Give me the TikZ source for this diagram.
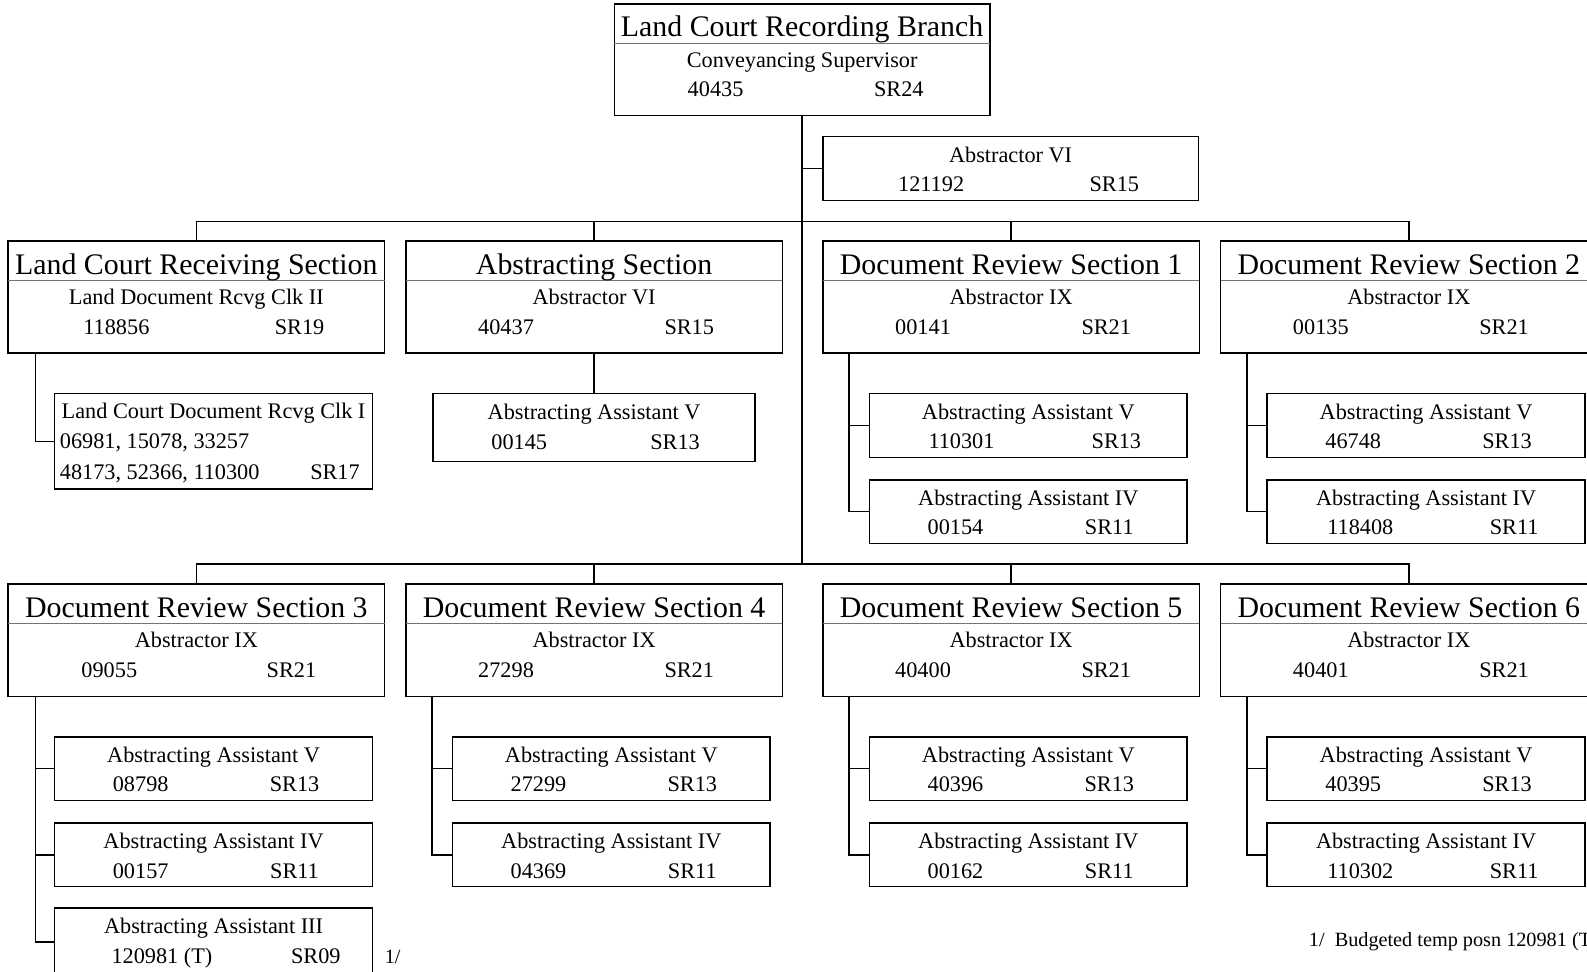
\documentclass[tikz,border=0pt]{standalone}
\usepackage{fontspec}
\setmainfont{Liberation Serif}
\tikzset{
  box/.style={draw=black, line width=1.5pt, fill=white, anchor=north west, inner sep=0pt, outer sep=0pt},
  sepline/.style={draw=black!55, line width=1pt},
  conn/.style={draw=black, line width=1.5pt},
  ttl/.style={font=\fontsize{29.5}{31}\selectfont, anchor=base, inner sep=0pt},
  txt/.style={font=\fontsize{22}{24}\selectfont, anchor=base, inner sep=0pt},
  txtw/.style={font=\fontsize{22}{24}\selectfont, anchor=base west, inner sep=0pt},
  note/.style={font=\fontsize{20}{22}\selectfont, anchor=base west, inner sep=0pt},
}
% #1 name, #2 x, #3 y, #4 title, #5 role, #6 num x, #7 num, #8 sr x, #9 sr
\newcommand\SecBox[9]{%
  \node[box, minimum width=372pt, minimum height=111pt] (#1) at (#2,#3) {};
  \draw[sepline] (#2,#3+39) -- (#2+372,#3+39);
  \node[ttl] (#1-t) at (#2+186,#3+33) {#4};
  \node[txt] (#1-r) at (#2+186,#3+62.5) {#5};
  \node[txt] (#1-n) at (#6,#3+92) {#7};
  \node[txt] (#1-s) at (#8,#3+92) {#9};
}
% #1 name, #2 x, #3 y, #4 role, #5 num x, #6 num, #7 sr x, #8 sr, #9 height
\newcommand\SubBox[9]{%
  \node[box, minimum width=314pt, minimum height=#9pt] (#1) at (#2,#3) {};
  \node[txt] (#1-r) at (#2+157,#3+25) {#4};
  \node[txt] (#1-n) at (#5,#3+54.5) {#6};
  \node[txt] (#1-s) at (#7,#3+54.5) {#8};
}
\begin{document}
\begin{tikzpicture}[x=1pt,y=-1pt]
\useasboundingbox (0,0) rectangle (1568,959.4);

% top box
\node[box, minimum width=371pt, minimum height=110pt] (top) at (607,4) {};
\draw[sepline] (607,43) -- (978,43);
\node[ttl] (top-t) at (792.5,36.5) {Land Court Recording Branch};
\node[txt] (top-r) at (792.5,66.5) {Conveyancing Supervisor};
\node[txt] (top-n) at (707,95.5) {40435};
\node[txt] (top-s) at (888,95.5) {SR24};

% Abstractor VI staff box
\node[box, minimum width=371pt, minimum height=63pt] (absvi) at (813,135) {};
\node[txt] (absvi-r) at (998.5,160.5) {Abstractor VI};
\node[txt] (absvi-n) at (920,189.5) {121192};
\node[txt] (absvi-s) at (1101,189.5) {SR15};

% row 1 sections
\SecBox{lcr}{8}{238}{Land Court Receiving Section}{Land Document Rcvg Clk II}{115}{118856}{296}{SR19}
\SecBox{as}{401}{238}{Abstracting Section}{Abstractor VI}{500}{40437}{681}{SR15}
\SecBox{dra}{813}{238}{Document Review Section 1}{Abstractor IX}{912}{00141}{1093}{SR21}
\SecBox{drb}{1206}{238}{Document Review Section 2}{Abstractor IX}{1305}{00135}{1486}{SR21}

% row 2 sections
\SecBox{drc}{8}{577}{Document Review Section 3}{Abstractor IX}{108}{09055}{288}{SR21}
\SecBox{drd}{401}{577}{Document Review Section 4}{Abstractor IX}{500}{27298}{681}{SR21}
\SecBox{dre}{813}{577}{Document Review Section 5}{Abstractor IX}{912}{40400}{1093}{SR21}
\SecBox{drf}{1206}{577}{Document Review Section 6}{Abstractor IX}{1305}{40401}{1486}{SR21}

% Land Court Receiving sub box
\node[box, minimum width=314pt, minimum height=94pt] (lcra) at (54,389) {};
\node[txt] (lcra-r) at (211,413.5) {Land Court Document Rcvg Clk I};
\node[txtw] (lcra-n1) at (59,443.5) {06981, 15078, 33257};
\node[txtw] (lcra-n2) at (59,473.5) {48173, 52366, 110300};
\node[txt] (lcra-s) at (331,473.5) {SR17};

% Abstracting Section sub box
\node[box, minimum width=318pt, minimum height=67pt] (asa) at (428,389) {};
\node[txt] (asa-r) at (587,414.5) {Abstracting Assistant V};
\node[txt] (asa-n) at (513,444.5) {00145};
\node[txt] (asa-s) at (667,444.5) {SR13};

% DR1 subs
\SubBox{draa}{859}{389}{Abstracting Assistant V}{950}{110301}{1103}{SR13}{63}
\SubBox{drab}{859}{474}{Abstracting Assistant IV}{944}{00154}{1096}{SR11}{63}
% DR2 subs
\SubBox{drba}{1252}{389}{Abstracting Assistant V}{1337}{46748}{1489}{SR13}{63}
\SubBox{drbb}{1252}{474}{Abstracting Assistant IV}{1344}{118408}{1496}{SR11}{63}
% DR3 subs
\SubBox{drca}{54}{728}{Abstracting Assistant V}{139}{08798}{291}{SR13}{63}
\SubBox{drcb}{54}{813}{Abstracting Assistant IV}{139}{00157}{291}{SR11}{63}
\SubBox{drcc}{54}{897}{Abstracting Assistant III}{160}{120981 (T)}{312}{SR09}{65}
% DR4 subs
\SubBox{drda}{447}{728}{Abstracting Assistant V}{532}{27299}{684}{SR13}{63}
\SubBox{drdb}{447}{813}{Abstracting Assistant IV}{532}{04369}{684}{SR11}{63}
% DR5 subs
\SubBox{drea}{859}{728}{Abstracting Assistant V}{944}{40396}{1096}{SR13}{63}
\SubBox{dreb}{859}{813}{Abstracting Assistant IV}{944}{00162}{1096}{SR11}{63}
% DR6 subs
\SubBox{drfa}{1252}{728}{Abstracting Assistant V}{1337}{40395}{1489}{SR13}{63}
\SubBox{drfb}{1252}{813}{Abstracting Assistant IV}{1344}{110302}{1496}{SR11}{63}

% footnotes
\node[note] (fn1) at (380,952) {1/};
\node[note] (fn2) at (1293,935) {1/\hspace{0.5em}Budgeted temp posn 120981 (T)};

% connectors
\coordinate (bus1) at (792.5,219);
\coordinate (bus2) at (792.5,557);
\draw[conn] (top.south) -- (bus2);
\draw[conn] (absvi.west) -- (absvi.west -| top.south);
\draw[conn] (lcr.north) -- (lcr.north |- bus1) -- (drb.north |- bus1) -- (drb.north);
\draw[conn] (as.north) -- (as.north |- bus1);
\draw[conn] (dra.north) -- (dra.north |- bus1);
\draw[conn] (drc.north) -- (drc.north |- bus2) -- (drf.north |- bus2) -- (drf.north);
\draw[conn] (drd.north) -- (drd.north |- bus2);
\draw[conn] (dre.north) -- (dre.north |- bus2);

\draw[conn] ([xshift=27pt]lcr.south west) |- (lcra.west);
\draw[conn] (as.south) -- (asa.north);
\draw[conn] ([xshift=26pt]dra.south west) |- (draa.west);
\draw[conn] ([xshift=26pt]dra.south west) |- (drab.west);
\draw[conn] ([xshift=26pt]drb.south west) |- (drba.west);
\draw[conn] ([xshift=26pt]drb.south west) |- (drbb.west);
\draw[conn] ([xshift=27pt]drc.south west) |- (drca.west);
\draw[conn] ([xshift=27pt]drc.south west) |- (drcb.west);
\draw[conn] ([xshift=27pt]drc.south west) |- ([yshift=-1pt]drcc.west);
\draw[conn] ([xshift=26pt]drd.south west) |- (drda.west);
\draw[conn] ([xshift=26pt]drd.south west) |- (drdb.west);
\draw[conn] ([xshift=26pt]dre.south west) |- (drea.west);
\draw[conn] ([xshift=26pt]dre.south west) |- (dreb.west);
\draw[conn] ([xshift=26pt]drf.south west) |- (drfa.west);
\draw[conn] ([xshift=26pt]drf.south west) |- (drfb.west);
\end{tikzpicture}
\end{document}
